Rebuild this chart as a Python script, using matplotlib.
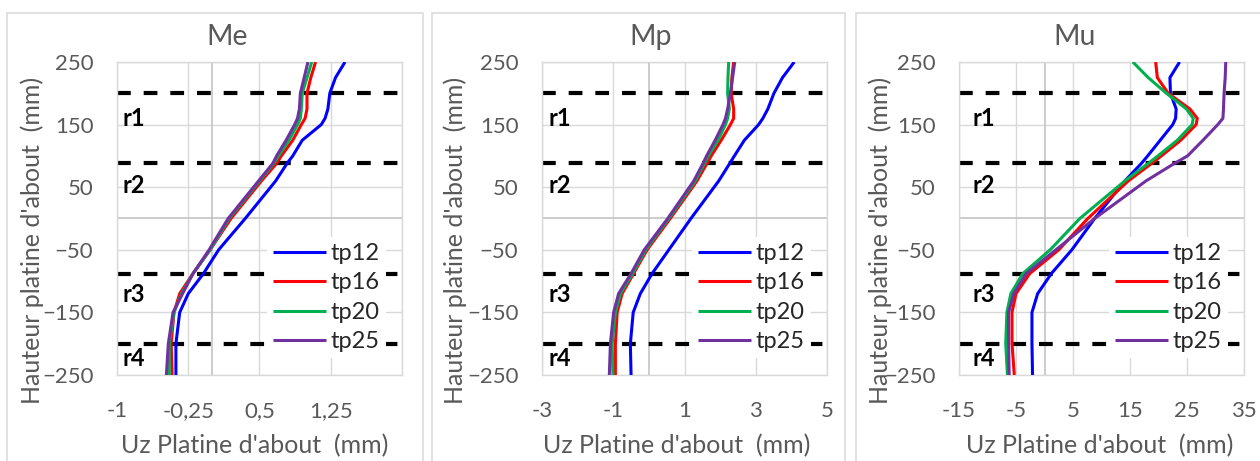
import matplotlib
matplotlib.use("Agg")
import matplotlib.pyplot as plt
from matplotlib.patches import Rectangle

plt.rcParams["font.family"] = ["Lato", "DejaVu Sans"]

# Plate height (mm) at which the displacement profiles are sampled
heights = [250, 225, 200, 175, 160, 150, 125, 100, 88, 60, 0, -50, -88, -120, -150, -200, -250]

# Me : end-plate displacement Uz (mm)
me_tp12 = [1.40, 1.30, 1.24, 1.22, 1.19, 1.15, 0.95, 0.85, 0.79, 0.67, 0.35, 0.07, -0.09, -0.25, -0.34, -0.38, -0.38]
me_tp16 = [1.09, 1.04, 1.00, 1.00, 0.98, 0.94, 0.85, 0.73, 0.68, 0.52, 0.20, -0.02, -0.20, -0.34, -0.40, -0.43, -0.42]
me_tp20 = [1.05, 1.00, 0.95, 0.94, 0.93, 0.90, 0.81, 0.70, 0.65, 0.50, 0.18, -0.02, -0.20, -0.32, -0.40, -0.45, -0.45]
me_tp25 = [1.01, 0.97, 0.93, 0.92, 0.90, 0.87, 0.78, 0.68, 0.64, 0.49, 0.17, -0.03, -0.20, -0.31, -0.41, -0.46, -0.48]

# Mp
mp_tp12 = [4.08, 3.75, 3.51, 3.34, 3.20, 3.08, 2.68, 2.40, 2.27, 1.96, 1.18, 0.56, 0.09, -0.24, -0.44, -0.52, -0.50]
mp_tp16 = [2.38, 2.33, 2.31, 2.38, 2.38, 2.29, 2.03, 1.75, 1.63, 1.35, 0.60, -0.05, -0.43, -0.75, -0.89, -0.94, -0.94]
mp_tp20 = [2.24, 2.22, 2.21, 2.26, 2.21, 2.15, 1.94, 1.67, 1.56, 1.30, 0.56, -0.09, -0.46, -0.80, -0.94, -1.03, -1.01]
mp_tp25 = [2.41, 2.35, 2.29, 2.21, 2.15, 2.08, 1.86, 1.62, 1.52, 1.26, 0.53, -0.13, -0.50, -0.85, -0.99, -1.08, -1.11]

# Mu
mu_tp12 = [23.7, 22.0, 22.1, 23.1, 23.0, 22.5, 20.3, 18.1, 17.0, 14.1, 8.8, 4.8, 1.2, -1.2, -2.2, -2.2, -2.1]
mu_tp16 = [19.5, 19.8, 21.7, 25.5, 26.8, 26.6, 23.9, 20.5, 18.8, 14.7, 7.6, 2.5, -2.6, -5.0, -5.7, -5.7, -5.3]
mu_tp20 = [15.5, 18.2, 21.4, 24.9, 26.1, 25.9, 23.3, 19.9, 18.2, 14.1, 6.2, 1.0, -3.8, -5.9, -6.6, -6.8, -6.5]
mu_tp25 = [31.8, 31.7, 31.5, 31.4, 31.3, 30.4, 27.8, 25.1, 22.8, 17.8, 8.8, 2.0, -3.2, -5.4, -6.3, -6.3, -6.2]

series_names = ["tp12", "tp16", "tp20", "tp25"]
series_colors = ["#0000FF", "#FF0000", "#00B050", "#7030A0"]

# Bolt rows
row_levels = [200, 88, -88, -200]
row_labels = ["r1", "r2", "r3", "r4"]
row_label_y = [160, 53, -122, -224]

y_ticks = [250, 150, 50, -50, -150, -250]

titles = ["Me", "Mp", "Mu"]
panel_data = [
    [me_tp12, me_tp16, me_tp20, me_tp25],
    [mp_tp12, mp_tp16, mp_tp20, mp_tp25],
    [mu_tp12, mu_tp16, mu_tp20, mu_tp25],
]
x_limits = [(-1, 2), (-3, 5), (-15, 35)]
x_ticks = [[-1, -0.25, 0.5, 1.25, 2], [-3, -1, 1, 3, 5], [-15, -5, 5, 15, 25, 35]]
x_ticklabels = [["-1", "-0,25", "0,5", "1,25", ""],
                ["-3", "-1", "1", "3", "5"],
                ["-15", "-5", "5", "15", "25", "35"]]

x_label = "Uz Platine d'about  (mm)"
y_label = "Hauteur platine d'about  (mm)"

W, H = 1260, 461
fig = plt.figure(figsize=(W / 100, H / 100), dpi=100)

TXT = "#595959"
GRID = "#d9d9d9"
AXIS0 = "#bfbfbf"

# layout in pixels
plot_x = [(117, 402), (542, 827), (959, 1244)]
plot_y = (62, 375)
frames = [(7, 423), (432, 845), (856, 1268)]
title_x = [227, 651, 1075]
xlabel_x = [255, 677, 1100]
ylabel_x = [32, 455, 880]
rlabel_dx = [6, 6, 13]


def fx(px):
    return px / W


def fy(py):
    return 1 - py / H


for i in range(3):
    x0, x1 = plot_x[i]
    y0, y1 = plot_y
    ax = fig.add_axes([fx(x0), fy(y1), (x1 - x0) / W, (y1 - y0) / H])

    fig.patches.append(Rectangle((fx(frames[i][0]), fy(470)),
                                 (frames[i][1] - frames[i][0]) / W, (470 - 13) / H,
                                 transform=fig.transFigure, fill=False,
                                 edgecolor=GRID, lw=1.1, zorder=0))

    ax.set_xlim(*x_limits[i])
    ax.set_ylim(-250, 250)
    ax.set_xticks(x_ticks[i])
    ax.set_xticklabels(x_ticklabels[i])
    ax.set_yticks(y_ticks)
    ax.tick_params(length=0, labelsize=16, labelcolor=TXT)
    ax.tick_params(axis="x", pad=19)
    ax.tick_params(axis="y", pad=17)
    ax.grid(True, color=GRID, lw=1.0, zorder=0)
    ax.set_axisbelow(True)
    for s in ax.spines.values():
        s.set_color(GRID)
        s.set_linewidth(1.0)
    ax.axvline(0, color=AXIS0, lw=1.1, zorder=1)
    ax.axhline(0, color=AXIS0, lw=1.1, zorder=1)

    for lv in row_levels:
        ax.axhline(lv, color="black", lw=3, ls=(0, (3.3, 3.1)), zorder=2)

    for name, color, vals in zip(series_names, series_colors, panel_data[i]):
        ax.plot(vals, heights, color=color, lw=2.2, label=name, zorder=3,
                solid_joinstyle="round", solid_capstyle="butt")

    xmin, xmax = x_limits[i]
    for lab, yv in zip(row_labels, row_label_y):
        ax.text(xmin + (xmax - xmin) * rlabel_dx[i] / 285, yv, lab,
                fontsize=17, fontweight="bold", color="black",
                ha="left", va="center", zorder=4)

    leg = ax.legend(loc="upper left",
                    bbox_to_anchor=((267 - 117) / 285, (375 - 237) / 313),
                    borderaxespad=0, frameon=True, fancybox=False,
                    facecolor="white", edgecolor="none", framealpha=1,
                    fontsize=17, handlelength=2.25, handletextpad=0.2,
                    labelspacing=0.36, borderpad=0.25)
    for t in leg.get_texts():
        t.set_color("#262626")
    leg.set_zorder(5)

    fig.text(fx(title_x[i]), fy(37), titles[i], fontsize=20.5, color=TXT,
             ha="center", va="center")
    fig.text(fx(xlabel_x[i]), fy(446), x_label, fontsize=18, color=TXT,
             ha="center", va="center")
    fig.text(fx(ylabel_x[i]), fy(240), y_label, fontsize=18, color=TXT,
             ha="center", va="center", rotation=90)

fig.savefig("out.png", dpi=100, facecolor="white")
